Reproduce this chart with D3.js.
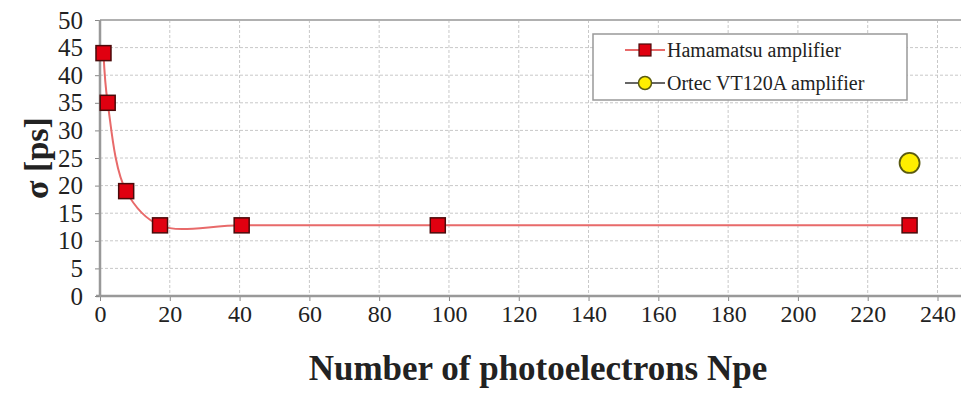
<!DOCTYPE html>
<html><head><meta charset="utf-8">
<script src="https://cdn.jsdelivr.net/npm/d3@7"></script>
<style>body{margin:0;background:#fff}svg{display:block}</style>
</head><body>
<svg id="c" width="961" height="393"></svg>
<script>
const hamaX = [1, 2.2, 7.5, 17.2, 40.6, 96.8, 232];
const hamaY = [44, 35, 19, 12.8, 12.8, 12.8, 12.8];
const ortecX = [232];
const ortecY = [24.1];
const xTicks = [0,20,40,60,80,100,120,140,160,180,200,220,240];
const yTicks = [0,5,10,15,20,25,30,35,40,45,50];
const seriesNames = ["Hamamatsu amplifier", "Ortec VT120A amplifier"];

const svg = d3.select("#c");
const x = d3.scaleLinear().domain([0, 240]).range([100, 937.5]);
const y = d3.scaleLinear().domain([0, 50]).range([296, 20]);
const font = "'Liberation Serif', 'Times New Roman', serif";

// grid
const g = svg.append("g");
g.selectAll(".hg").data(yTicks.filter(d=>d>0 && d<50)).join("line")
  .attr("x1", 100).attr("x2", 961).attr("y1", d=>y(d)).attr("y2", d=>y(d))
  .attr("stroke", "#c8c8c8").attr("stroke-width", 1).attr("stroke-dasharray", "3,2");
g.selectAll(".vg").data(xTicks.filter(d=>d>0)).join("line")
  .attr("x1", d=>x(d)).attr("x2", d=>x(d)).attr("y1", 20).attr("y2", 296)
  .attr("stroke", "#c8c8c8").attr("stroke-width", 1).attr("stroke-dasharray", "3,2");
svg.append("line").attr("x1", 100).attr("x2", 961).attr("y1", y(50)).attr("y2", y(50))
  .attr("stroke", "#b0b0b0").attr("stroke-width", 2);

// axes
const xAxis = d3.axisBottom(x).tickValues(xTicks).tickSize(5).tickFormat(d3.format("d"));
const xa = svg.append("g").attr("transform", "translate(0,296)").call(xAxis);
xa.select(".domain").remove();
xa.selectAll(".tick line").attr("stroke", "#888");
xa.selectAll("text").attr("font-family", font).attr("font-size", 24).attr("fill", "#222").attr("dy", "0.9em").attr("y", 4);
svg.append("line").attr("x1", 96).attr("x2", 961).attr("y1", 296).attr("y2", 296)
  .attr("stroke", "#999").attr("stroke-width", 2.5);

const yAxis = d3.axisLeft(y).tickValues(yTicks).tickSize(5);
const ya = svg.append("g").attr("transform", "translate(100,0)").call(yAxis);
ya.select(".domain").remove();
ya.selectAll(".tick line").attr("stroke", "#888");
ya.selectAll("text").attr("font-family", font).attr("font-size", 25).attr("fill", "#222").attr("x", -17);
svg.append("line").attr("x1", 100).attr("x2", 100).attr("y1", 20).attr("y2", 297)
  .attr("stroke", "#999").attr("stroke-width", 2.5);

// titles
svg.append("text").attr("x", 538).attr("y", 380).attr("text-anchor", "middle")
  .attr("font-family", font).attr("font-weight", "bold").attr("font-size", 35).attr("fill", "#222")
  .text("Number of photoelectrons Npe");
svg.append("text").attr("transform", "translate(48,158) rotate(-90)").attr("text-anchor", "middle")
  .attr("font-family", font).attr("font-weight", "bold").attr("font-size", 34).attr("fill", "#222")
  .text("σ [ps]");

// series
const hama = hamaX.map((v,i)=>[v, hamaY[i]]);
svg.append("path").datum(hama)
  .attr("d", d3.line().x(d=>x(d[0])).y(d=>y(d[1])).curve(d3.curveCatmullRom.alpha(0.5)))
  .attr("fill", "none").attr("stroke", "#e86a6a").attr("stroke-width", 2);
const sq = 15;
svg.selectAll(".hm").data(hama).join("rect")
  .attr("x", d=>x(d[0])-sq/2).attr("y", d=>y(d[1])-sq/2).attr("width", sq).attr("height", sq)
  .attr("fill", "#e00010").attr("stroke", "#4a0a0a").attr("stroke-width", 1.5);
const ortec = ortecX.map((v,i)=>[v, ortecY[i]]);
svg.selectAll(".om").data(ortec).join("circle")
  .attr("cx", d=>x(d[0])).attr("cy", d=>y(d[1])).attr("r", 10)
  .attr("fill", "#ffee00").attr("stroke", "#5a5a10").attr("stroke-width", 1.8);

// legend
const lg = svg.append("g");
lg.append("rect").attr("x", 593).attr("y", 34).attr("width", 314).attr("height", 66)
  .attr("fill", "#fff").attr("stroke", "#999").attr("stroke-width", 1.5);
const ly = [50, 83];
lg.append("line").attr("x1", 625).attr("x2", 665).attr("y1", ly[0]).attr("y2", ly[0]).attr("stroke", "#e86a6a").attr("stroke-width", 2);
lg.append("rect").attr("x", 639).attr("y", ly[0]-6).attr("width", 12).attr("height", 12)
  .attr("fill", "#e00010").attr("stroke", "#4a0a0a").attr("stroke-width", 1.2);
lg.append("line").attr("x1", 625).attr("x2", 665).attr("y1", ly[1]).attr("y2", ly[1]).attr("stroke", "#333").attr("stroke-width", 1.5);
lg.append("circle").attr("cx", 645).attr("cy", ly[1]).attr("r", 6.5)
  .attr("fill", "#ffee00").attr("stroke", "#5a5a10").attr("stroke-width", 1.5);
seriesNames.forEach((n,i)=>{
  lg.append("text").attr("x", 667).attr("y", ly[i]).attr("dy", "0.35em")
    .attr("font-family", font).attr("font-size", 20).attr("fill", "#222").text(n);
});
</script>
</body></html>
